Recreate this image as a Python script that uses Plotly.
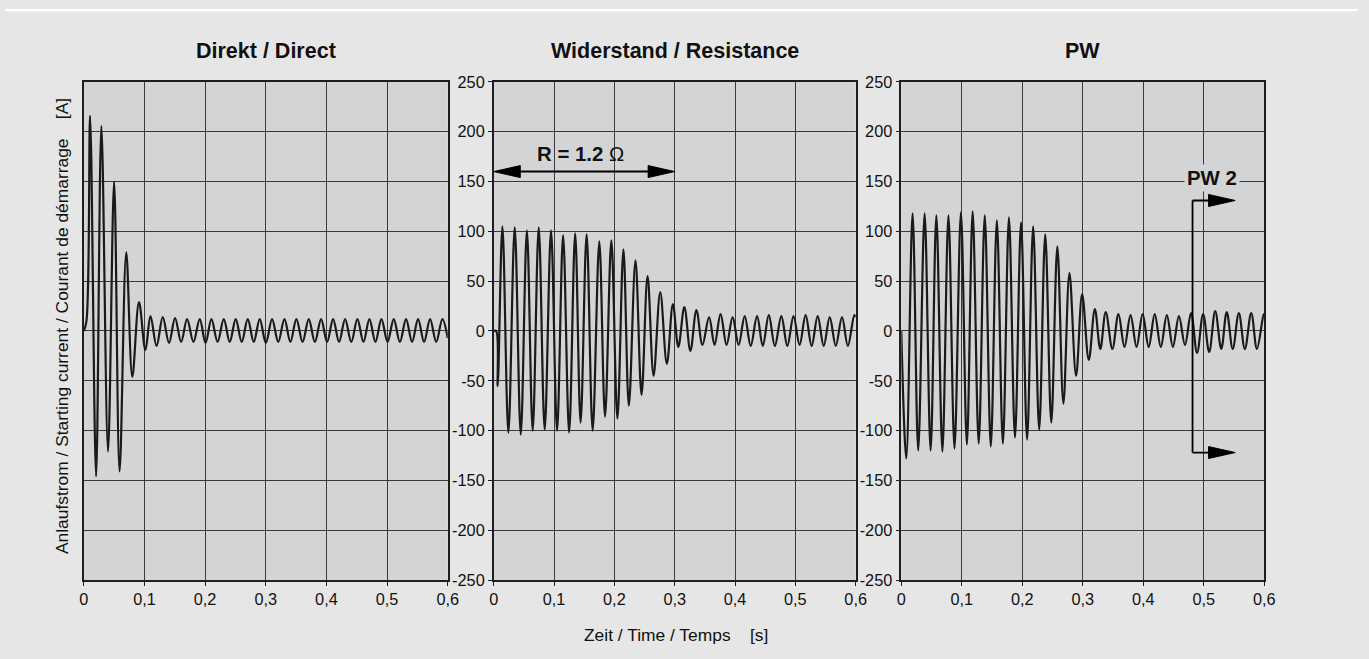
import plotly.graph_objects as go

# ---------------- data ----------------
panel_titles = ["Direkt / Direct", "Widerstand / Resistance", "PW"]
x_tick_vals = [0, 0.1, 0.2, 0.3, 0.4, 0.5, 0.6]
x_tick_labels = ["0", "0,1", "0,2", "0,3", "0,4", "0,5", "0,6"]
y_tick_vals = [-250, -200, -150, -100, -50, 0, 50, 100, 150, 200, 250]
y_tick_labels = ["-250", "-200", "-150", "-100", "-50", "0", "50", "100", "150", "200", "250"]
y_title = "Anlaufstrom / Starting current / Courant de démarrage    [A]"
x_title = "Zeit / Time / Temps    [s]"

# Direct start: extremes of the current curve (time [s], current [A])
direct_t = [0, 0.0044, 0.0104, 0.0203, 0.029, 0.040, 0.050, 0.059, 0.070, 0.080,
            0.091, 0.1016, 0.110, 0.120, 0.1302, 0.1405, 0.1505, 0.1605, 0.1703, 0.1808,
            0.1912, 0.2008, 0.2104, 0.2206, 0.2308, 0.2406, 0.2505, 0.2604, 0.2703, 0.2802,
            0.2901, 0.3002, 0.3104, 0.3206, 0.3308, 0.3406, 0.3505, 0.3607, 0.3709, 0.381,
            0.3912, 0.4011, 0.411, 0.4209, 0.4308, 0.441, 0.4511, 0.461, 0.4709, 0.4808,
            0.4907, 0.5008, 0.511, 0.5211, 0.5313, 0.5412, 0.5511, 0.561, 0.5709, 0.581,
            0.5912, 0.6]
direct_i = [0, 10, 216, -146, 206, -121, 150, -141, 79, -46,
            29, -19, 15, -15, 14, -12, 13, -11, 12, -11,
            12, -12, 12, -11, 12, -11, 12, -11, 12, -11,
            12, -12, 12, -11, 12, -11, 12, -11, 12, -11,
            12, -11, 12, -11, 12, -11, 12, -11, 12, -11,
            12, -11, 12, -11, 12, -11, 12, -11, 12, -11,
            12, -7]

# Resistance start (R = 1.2 Ohm)
res_t = [0, 0.004, 0.0066, 0.0144, 0.0243, 0.0348, 0.0448, 0.055, 0.0646, 0.0746,
         0.0845, 0.095, 0.105, 0.115, 0.125, 0.135, 0.144, 0.154, 0.164, 0.175,
         0.1845, 0.195, 0.205, 0.215, 0.224, 0.235, 0.245, 0.255, 0.265, 0.276,
         0.287, 0.297, 0.306, 0.316, 0.326, 0.336, 0.346, 0.357, 0.366, 0.376,
         0.386, 0.396, 0.406, 0.416, 0.426, 0.4365, 0.446, 0.456, 0.466, 0.4768,
         0.4867, 0.497, 0.507, 0.517, 0.527, 0.537, 0.547, 0.557, 0.567, 0.5773,
         0.587, 0.5978, 0.6]
res_i = [0, 0, -55, 105, -102, 104, -104, 101, -100, 104,
         -99, 101, -100, 96, -102, 98, -92, 97, -100, 90,
         -86, 91, -88, 82, -75, 71, -64, 55, -45, 39,
         -33, 27, -16, 24, -20, 21, -14, 14, -14, 17,
         -14, 14, -14, 15, -15, 15, -15, 16, -15, 15,
         -15, 15, -14, 16, -15, 15, -15, 14, -15, 14,
         -15, 16, 14]

# PW start
pw_t = [0, 0.0083, 0.0187, 0.028, 0.0386, 0.0485, 0.058, 0.068, 0.078, 0.088,
        0.0986, 0.1085, 0.118, 0.128, 0.138, 0.148, 0.158, 0.168, 0.178, 0.188,
        0.198, 0.208, 0.218, 0.228, 0.238, 0.248, 0.258, 0.268, 0.278, 0.289,
        0.299, 0.310, 0.320, 0.329, 0.338, 0.349, 0.359, 0.369, 0.379, 0.389,
        0.399, 0.409, 0.419, 0.429, 0.439, 0.449, 0.459, 0.469, 0.479, 0.489,
        0.499, 0.509, 0.519, 0.529, 0.538, 0.548, 0.558, 0.568, 0.5785, 0.588,
        0.599, 0.6]
pw_i = [0, -128, 118, -120, 118, -120, 116, -121, 116, -118,
        119, -114, 120, -113, 116, -116, 111, -113, 114, -107,
        109, -109, 105, -99, 97, -92, 85, -73, 58, -45,
        37, -29, 22, -18, 19, -18, 17, -16, 16, -16,
        17, -16, 17, -16, 16, -16, 15, -14, 18, -22,
        17, -21, 20, -18, 19, -18, 18, -18, 18, -18,
        17, 15]

# annotation geometry (data units of the panels)
r_label = "R = 1.2 Ω"
r_arrow = dict(x0=0.0, x1=0.3, y=160, label_x=0.144, label_y=178)
pw_label = "PW 2"
pw_bracket = dict(x=0.4815, y_top=131, y_bot=-122, tip=0.552, label_x=0.5135, label_y=154)
head_len = 0.044   # arrow head length (s)
head_half = 6      # arrow head half-height (A)

# ---------------- styling ----------------
# The page places the figure inside an 8 px body margin and the capture
# covers (figure + 16 px) which is then fitted to 1369x659; positions below
# are given in final-picture pixels and converted back to figure space.
W, H = 1369, 659
OFF = 8
SX = W / (W + 2 * OFF)
SY = H / (H + 2 * OFF)
OUTER = "#e6e6e6"
PLOT_BG = "#d3d4d6"
GRID = "#3a3a3a"
AXLINE = "#1e1e1e"
CURVE = "#1a1a1a"
TICK_FONT = dict(family="Liberation Sans Narrow, Arial Narrow, Liberation Sans, Arial", size=16.3, color="#111")
TEXT_FONT = "Liberation Sans, Arial, sans-serif"

def px_x(p):
    return (p / SX - OFF) / W

def px_y(p):
    return 1 - (p / SY - OFF) / H

x_domains = [(86.7, 450.7), (496.7, 858.7), (904.3, 1267.3)]
y_domain = [px_y(581), px_y(81)]

fig = go.Figure()
series = [(direct_t, direct_i), (res_t, res_i), (pw_t, pw_i)]
for k, (tt, ii) in enumerate(series):
    sfx = "" if k == 0 else str(k + 1)
    fig.add_trace(go.Scatter(
        x=tt, y=ii, mode="lines",
        line=dict(color=CURVE, width=2.2, shape="spline", smoothing=1.0),
        xaxis="x" + sfx, yaxis="y" + sfx, showlegend=False, hoverinfo="skip"))

layout = dict(
    width=W, height=H,
    margin=dict(l=0, r=0, t=0, b=0),
    paper_bgcolor=OUTER, plot_bgcolor=PLOT_BG,
    showlegend=False,
)
for k, (a, b) in enumerate(x_domains):
    sfx = "" if k == 0 else str(k + 1)
    layout["xaxis" + sfx] = dict(
        domain=[px_x(a), px_x(b)], range=[0, 0.6], anchor="y" + sfx,
        tickmode="array", tickvals=x_tick_vals, ticktext=x_tick_labels,
        showgrid=True, gridcolor=GRID, gridwidth=1, zeroline=False,
        showline=True, linecolor=AXLINE, linewidth=1.5, mirror=True,
        ticks="outside", ticklen=4, tickcolor=AXLINE, tickfont=TICK_FONT,
        fixedrange=True)
    layout["yaxis" + sfx] = dict(
        domain=y_domain, range=[-250, 250], anchor="x" + sfx,
        tickmode="array", tickvals=y_tick_vals, ticktext=y_tick_labels,
        showgrid=True, gridcolor=GRID, gridwidth=1, zeroline=False,
        showline=True, linecolor=AXLINE, linewidth=1.5, mirror=True,
        ticks="" if k == 0 else "outside", ticklen=4, tickcolor=AXLINE,
        showticklabels=(k != 0), tickfont=TICK_FONT, fixedrange=True)

annotations = []
for k, (a, b) in enumerate(x_domains):
    annotations.append(dict(
        text="<b>%s</b>" % panel_titles[k], x=px_x((a + b) / 2), y=px_y(50),
        xref="paper", yref="paper", showarrow=False, xanchor="center", yanchor="middle",
        font=dict(family=TEXT_FONT, size=21.5, color="#111")))
annotations.append(dict(
    text=y_title, x=px_x(65), y=px_y(326), xref="paper", yref="paper",
    showarrow=False, textangle=-90, xanchor="center", yanchor="middle",
    font=dict(family=TEXT_FONT, size=17.4, color="#111")))
annotations.append(dict(
    text=x_title, x=px_x(679), y=px_y(636), xref="paper", yref="paper",
    showarrow=False, xanchor="center", yanchor="middle",
    font=dict(family=TEXT_FONT, size=17.4, color="#111")))
annotations.append(dict(
    text="<b>R = 1.2 </b>Ω", x=r_arrow["label_x"], y=r_arrow["label_y"], xref="x2", yref="y2",
    showarrow=False, xanchor="center", yanchor="middle",
    font=dict(family=TEXT_FONT, size=20.4, color="#111")))
annotations.append(dict(
    text="<b>%s</b>" % pw_label, x=pw_bracket["label_x"], y=pw_bracket["label_y"], xref="x3", yref="y3",
    showarrow=False, xanchor="center", yanchor="middle", bgcolor=PLOT_BG, borderpad=2,
    font=dict(family=TEXT_FONT, size=20.4, color="#111")))
layout["annotations"] = annotations

def head(tip_x, y, direction, xref, yref):
    base = tip_x - direction * head_len
    return dict(type="path", xref=xref, yref=yref,
                path="M %f %f L %f %f L %f %f Z" % (tip_x, y, base, y + head_half, base, y - head_half),
                fillcolor="#000", line=dict(color="#000", width=1))

shapes = [
    # thin white strip at the top of the page
    dict(type="rect", xref="paper", yref="paper", x0=0, x1=1, y0=px_y(10), y1=1,
         fillcolor="white", line=dict(width=0), layer="below"),
    # R arrow
    dict(type="line", xref="x2", yref="y2", x0=r_arrow["x0"] + head_len * 0.5, x1=r_arrow["x1"] - head_len * 0.5,
         y0=r_arrow["y"], y1=r_arrow["y"], line=dict(color="#000", width=2)),
    head(r_arrow["x0"], r_arrow["y"], -1, "x2", "y2"),
    head(r_arrow["x1"], r_arrow["y"], 1, "x2", "y2"),
    # PW 2 bracket
    dict(type="line", xref="x3", yref="y3", x0=pw_bracket["x"], x1=pw_bracket["x"],
         y0=pw_bracket["y_bot"], y1=pw_bracket["y_top"], line=dict(color="#000", width=1.8)),
    dict(type="line", xref="x3", yref="y3", x0=pw_bracket["x"], x1=pw_bracket["tip"] - head_len * 0.5,
         y0=pw_bracket["y_top"], y1=pw_bracket["y_top"], line=dict(color="#000", width=1.8)),
    dict(type="line", xref="x3", yref="y3", x0=pw_bracket["x"], x1=pw_bracket["tip"] - head_len * 0.5,
         y0=pw_bracket["y_bot"], y1=pw_bracket["y_bot"], line=dict(color="#000", width=1.8)),
    head(pw_bracket["tip"], pw_bracket["y_top"], 1, "x3", "y3"),
    head(pw_bracket["tip"], pw_bracket["y_bot"], 1, "x3", "y3"),
]
layout["shapes"] = shapes

fig.update_layout(**layout)
fig.write_html("out.html", config={"responsive": False})
